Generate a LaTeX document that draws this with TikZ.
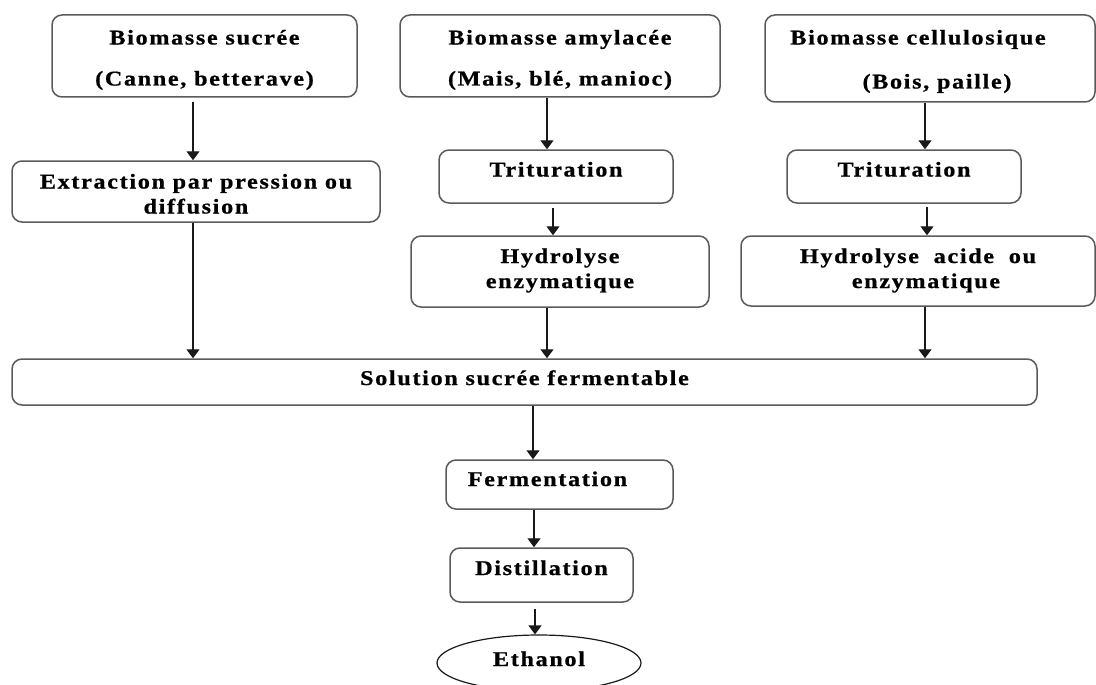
\documentclass[tikz,border=0pt]{standalone}
\usepackage{fontspec}
\newfontfamily\lbl[FakeStretch=1.15,LetterSpace=8,FakeBold=0.8]{Liberation Serif}
\usetikzlibrary{arrows.meta,shapes.geometric}
\definecolor{boxgray}{RGB}{90,90,90}
\definecolor{arrblack}{RGB}{25,25,25}
% text block whose last baseline sits #1 below the node centre
\newcommand{\bxt}[2]{\smash{\raisebox{-#1}{\begin{tabular}[b]{@{}c@{}}#2\end{tabular}}}}
\begin{document}
\begin{tikzpicture}[x=1pt,y=-1pt,
  box/.style={draw=boxgray, line width=1.5pt, rounded corners=10pt, inner sep=0pt,
    font=\lbl\bfseries\fontsize{21}{25}\selectfont, text=black},
  oval/.style={ellipse, draw=arrblack, line width=1.2pt, inner sep=0pt,
    font=\lbl\bfseries\fontsize{21}{25}\selectfont, text=black},
  arr/.style={draw=arrblack, line width=1.4pt, -{Triangle[length=9pt,width=13pt]}}]
\useasboundingbox (0,0) rectangle (1096,685);
% top row
\node[box, minimum width=305pt, minimum height=82pt] (b1) at (204.5,56) {\bxt{29.5pt}{Biomasse sucrée\\[16pt](Canne, betterave)}};
\node[box, minimum width=320pt, minimum height=82pt] (b2) at (560,56) {\bxt{29.5pt}{Biomasse amylacée\\[16pt](Mais, blé, manioc)}};
\node[box, minimum width=330pt, minimum height=87pt] (b3) at (930,58.5) {\bxt{30pt}{Biomasse cellulosique\hspace*{24pt}\\[19pt]\hspace*{14pt}(Bois, paille)}};
% second row
\node[box, minimum width=368pt, minimum height=61pt] (ext) at (196,191.5) {\bxt{22pt}{Extraction par pression ou\\diffusion}};
\node[box, minimum width=234pt, minimum height=53pt] (t1) at (556,176.5) {\bxt{0pt}{Trituration}};
\node[box, minimum width=234pt, minimum height=53pt] (t2) at (904,176.5) {\bxt{0pt}{Trituration}};
% third row
\node[box, minimum width=298pt, minimum height=71pt] (h1) at (560,271.5) {\bxt{16.5pt}{Hydrolyse\\enzymatique}};
\node[box, minimum width=354pt, minimum height=70pt] (h2) at (918,271) {\bxt{17pt}{Hydrolyse\hspace{7pt} acide\hspace{7pt} ou\\\hspace*{16pt}enzymatique}};
% solution
\node[box, minimum width=1025pt, minimum height=46pt] (sol) at (524.5,382) {\bxt{3pt}{Solution sucrée fermentable}};
% lower chain
\node[box, minimum width=227pt, minimum height=49pt] (f) at (559.5,484.5) {\bxt{1.5pt}{Fermentation\hspace*{24pt}}};
\node[box, minimum width=183pt, minimum height=54pt] (d) at (541.5,575) {\bxt{0pt}{Distillation}};
\node[oval, minimum width=204pt, minimum height=56pt] (e) at (539,663) {\bxt{3pt}{Ethanol}};
% arrow x positions
\coordinate (c1) at (193,0);
\coordinate (c2) at (547,0);
\coordinate (c3) at (553,0);
\coordinate (c4) at (925,0);
\coordinate (c5) at (927,0);
\coordinate (c6) at (533,0);
\coordinate (c7) at (534,0);
\coordinate (c8) at (535,0);
% arrows
\draw[arr, shorten <=4pt] (b1.south -| c1) -- (ext.north -| c1);
\draw[arr] (ext.south -| c1) -- (sol.north -| c1);
\draw[arr] (b2.south -| c2) -- (t1.north -| c2);
\draw[arr, shorten <=4pt] (t1.south -| c3) -- (h1.north -| c3);
\draw[arr] (h1.south -| c2) -- (sol.north -| c2);
\draw[arr] (b3.south -| c4) -- (t2.north -| c4);
\draw[arr, shorten <=3pt] (t2.south -| c5) -- (h2.north -| c5);
\draw[arr] (h2.south -| c4) -- (sol.north -| c4);
\draw[arr] (sol.south -| c6) -- (f.north -| c6);
\draw[arr] (f.south -| c7) -- (d.north -| c7);
\draw[arr, shorten <=6pt] (d.south -| c8) -- (e.north -| c8);
\end{tikzpicture}
\end{document}
